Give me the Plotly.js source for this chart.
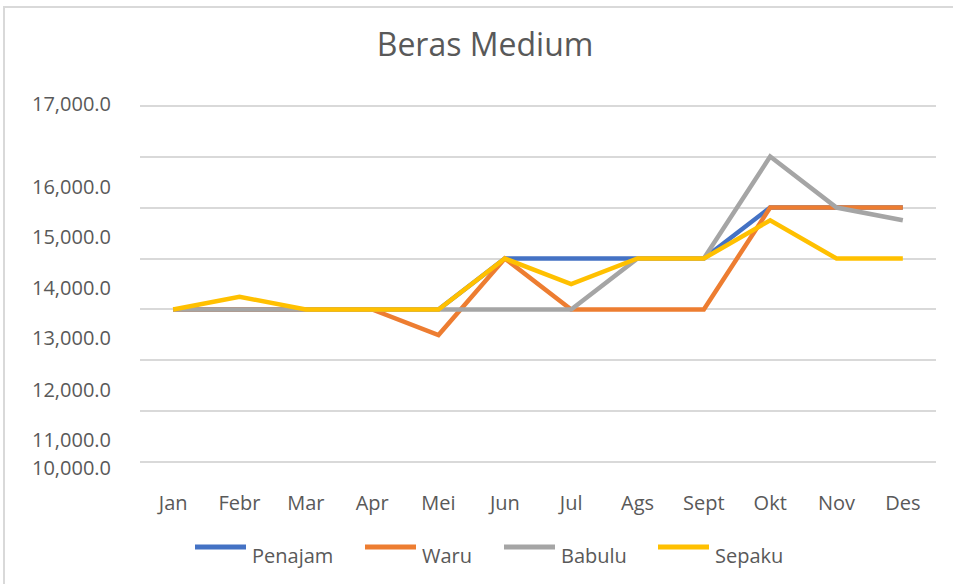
<!DOCTYPE html>
<html>
<head>
<meta charset="utf-8">
<script src="https://cdn.plot.ly/plotly-3.0.1.min.js"></script>
<style>
  html, body { margin: 0; padding: 0; background: #fff; }
  #wrap { position: relative; width: 953px; height: 584px; overflow: hidden; }
  #chart { width: 953px; height: 584px; }
  #frame { position: absolute; left: 3px; top: 6px; right: -10px; bottom: -10px;
           border-left: 2px solid #d9d9d9; border-top: 2px solid #d9d9d9; pointer-events: none; }
</style>
</head>
<body>
<div id="wrap"><div id="chart"></div><div id="frame"></div></div>
<script>
// ---- data ----
const months = ["Jan", "Febr", "Mar", "Apr", "Mei", "Jun", "Jul", "Ags", "Sept", "Okt", "Nov", "Des"];
const seriesNames = ["Penajam", "Waru", "Babulu", "Sepaku"];
const penajam = [13000, 13000, 13000, 13000, 13000, 14000, 14000, 14000, 14000, 15000, 15000, 15000];
const waru    = [13000, 13000, 13000, 13000, 12500, 14000, 13000, 13000, 13000, 15000, 15000, 15000];
const babulu  = [13000, 13000, 13000, 13000, 13000, 13000, 13000, 14000, 14000, 16000, 15000, 14750];
const sepaku  = [13000, 13250, 13000, 13000, 13000, 14000, 13500, 14000, 14000, 14750, 14000, 14000];
const yTickVals   = [17000, 16000, 15000, 14000, 13000, 12000, 11000, 10000];
const yTickLabels = ["17,000.0", "16,000.0", "15,000.0", "14,000.0", "13,000.0", "12,000.0", "11,000.0", "10,000.0"];

// ---- layout / style constants ----
const colors = ["#4472C4", "#ED7D31", "#A5A5A5", "#FFC000"];
const yLabelShift = [2, -30, -29, -29, -28, -29, -28, -5];   // px offsets of y labels from gridlines
const legendLineX = [195, 365, 504, 658];                     // px, left end of legend swatches
const SW_LEN = 51, SW_Y = 547, TXT_Y = 555;

const FONT = "Open Sans, sans-serif";
const TXT = "#595959";
const W = 953, H = 584;
const M = { l: 140, r: 17, t: 103, b: 119 };
const PW = W - M.l - M.r, PH = H - M.t - M.b;
const px2paperX = px => (px - M.l) / PW;
const px2paperY = py => (H - M.b - py) / PH;

const allSeries = [penajam, waru, babulu, sepaku];
const traces = allSeries.map((y, i) => ({
  type: "scatter", mode: "lines", name: seriesNames[i], x: months, y: y,
  line: { color: colors[i], width: 4.5 }, showlegend: false,
  hovertemplate: seriesNames[i] + ": %{y}<extra></extra>"
}));

const annotations = yTickLabels.map((t, i) => ({
  xref: "paper", yref: "y", x: 0, y: yTickVals[i], text: t, showarrow: false,
  xanchor: "right", yanchor: "middle", xshift: -27, yshift: yLabelShift[i],
  font: { family: FONT, size: 20, color: TXT }
}));
const shapes = [];
seriesNames.forEach((n, i) => {
  shapes.push({ type: "line", xref: "paper", yref: "paper",
    x0: px2paperX(legendLineX[i]), x1: px2paperX(legendLineX[i] + SW_LEN),
    y0: px2paperY(SW_Y), y1: px2paperY(SW_Y),
    line: { color: colors[i], width: 5 } });
  annotations.push({ xref: "paper", yref: "paper", x: px2paperX(legendLineX[i] + SW_LEN + 4),
    y: px2paperY(TXT_Y), text: n, showarrow: false, xanchor: "left", yanchor: "middle",
    font: { family: FONT, size: 20, color: TXT } });
});

const layout = {
  width: W, height: H,
  paper_bgcolor: "#ffffff", plot_bgcolor: "#ffffff",
  margin: M,
  font: { family: FONT, color: TXT },
  title: { text: "Beras Medium", font: { family: FONT, size: 32, color: TXT },
           xref: "container", x: 0.509, xanchor: "center",
           yref: "container", y: 0.923, yanchor: "middle" },
  xaxis: { type: "category", range: [-0.5, 11.5], showgrid: false, zeroline: false, showline: false,
           ticks: "", ticklabelstandoff: 24,
           tickfont: { family: FONT, size: 20, color: TXT } },
  yaxis: { range: [9950, 17050], tickvals: yTickVals, showgrid: true,
           gridcolor: "#d9d9d9", gridwidth: 1.5, zeroline: false, showline: false,
           showticklabels: false, ticks: "" },
  shapes: shapes,
  annotations: annotations,
  showlegend: false
};

Plotly.newPlot("chart", traces, layout, { displayModeBar: false });
</script>
</body>
</html>
